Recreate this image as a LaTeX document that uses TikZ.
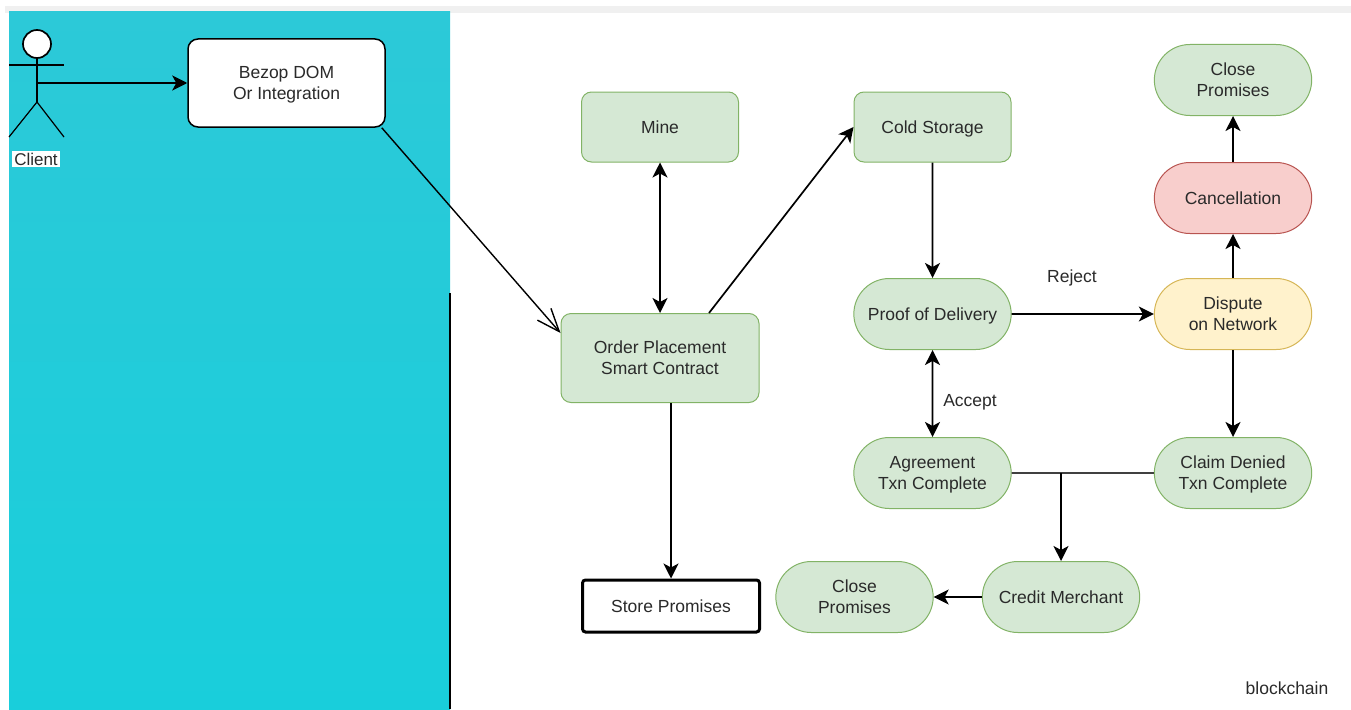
\documentclass[tikz,border=0pt]{standalone}
\usepackage{fontspec}
\setmainfont{Liberation Sans}
\usetikzlibrary{positioning}
\usetikzlibrary{arrows.meta,calc,shapes}
\definecolor{boxgreen}{HTML}{D5E8D4}
\definecolor{linegreen}{HTML}{82B366}
\definecolor{boxred}{HTML}{F8CECC}
\definecolor{linered}{HTML}{B85450}
\definecolor{boxyellow}{HTML}{FFF2CC}
\definecolor{lineyellow}{HTML}{D6B656}
\definecolor{inktext}{HTML}{2A2A2A}
\definecolor{tealtop}{HTML}{2CC9D8}
\definecolor{tealbottom}{HTML}{19CEDB}
\newcommand{\textstrut}{\rule[-4pt]{0pt}{20.6pt}}
\newcommand{\tallstrut}{\rule[-4pt]{0pt}{41.6pt}}
\tikzset{
    flow/.style={>={Stealth[length=15pt,width=15pt,inset=4pt]},x=1pt,y=1pt,
                     line width=1.7pt,font=\fontsize{17.5}{21}\selectfont,text=inktext},
    strutted/.style={execute at begin node=\textstrut,execute at end node=\textstrut},
    twolines/.style={execute at begin node=\tallstrut},
    square/.style={strutted,draw=linegreen,line width=1pt,fill=boxgreen,rounded corners=10pt,align=center,
                     minimum width=157pt,minimum height=70pt},
    pill/.style={strutted,rounded rectangle,draw=linegreen,line width=1pt,fill=boxgreen,align=center,
                     minimum width=164pt,minimum height=71pt},
    openarrow/.style={line width=1.4pt,-{Straight Barb[length=23pt,width=18pt]}},
    }
\begin{document}
\begin{tikzpicture}[flow]
            \useasboundingbox (0,0) rectangle (1351,-709);
            \fill[gray!12] (5,-6) rectangle (1351,-13);
            \shade[top color=tealtop,bottom color=tealbottom] (9,-12) rectangle (450,-709);
            \draw (450,-293) -- (450,-709);

            \node[circle,draw,fill=white,minimum size=28pt,inner sep=0pt] (head) at (37,-44) {};
            \coordinate (hip) at (37,-102);
            \coordinate (waist) at (37,-83);
            \coordinate (armleft) at (9,-65);
            \coordinate (armright) at (64,-65);
            \coordinate (footleft) at (9,-137);
            \coordinate (footright) at (64,-137);
            \draw[line width=1.2pt] (head) -- (hip);
            \draw[line width=1.2pt] (armleft) -- (armright);
            \draw[line width=1.2pt] (footleft) -- (hip) -- (footright);
            \node[fill=white,inner sep=2pt,font=\fontsize{17}{20}\selectfont] (client) at (36,-159) {Client};

            \node[square,twolines,fill=white,draw=black,line width=1.5pt,minimum width=197pt,minimum height=88pt] (bezop) at (286.5,-83) {Bezop DOM\\Or Integration};
            \node[square,twolines,minimum width=198pt,minimum height=89pt] (order) at (660,-358) {Order Placement\\Smart Contract};
            \node[square] (mine) [above of=order, node distance=231pt] {Mine};
            \node[square] (cold) [right of=mine, node distance=272.5pt] {Cold Storage};
            \node[pill] (proof) [below of=cold, node distance=187pt] {Proof of Delivery};
            \node[pill,twolines] (agreement) [below of=proof, node distance=159pt] {Agreement\\Txn Complete};
            \node[pill,twolines,fill=boxyellow,draw=lineyellow] (dispute) [right of=proof, node distance=300.5pt] {Dispute\\on Network};
            \node[pill,fill=boxred,draw=linered] (cancel) [above of=dispute, node distance=116pt] {Cancellation};
            \node[pill,twolines] (closetop) [above of=cancel, node distance=118pt] {Close\\Promises};
            \node[pill,twolines] (claim) [below of=dispute, node distance=159pt] {Claim Denied\\Txn Complete};
            \node[pill] (credit) at (1061,-597) {Credit Merchant};
            \node[pill,twolines] (closeleft) [left of=credit, node distance=206.5pt] {Close\\Promises};
            \node[strutted,draw=black,line width=3pt,rounded corners=3pt,fill=white,minimum width=177pt,minimum height=52pt] (store) at (671,-606) {Store Promises};

            \node (reject) at (1072,-276) {\textstrut Reject};
            \node (accept) at (970,-400) {\textstrut Accept};
            \node (blockchain) at (1287,-688) {blockchain};

            \coordinate (join) at (1061,-473);

            \path[->] (waist) edge (bezop.west);
            \path[openarrow] ([xshift=-4pt]bezop.south east) edge ([yshift=25pt]order.west);
            \path[<->] (order.north) edge (mine.south);
            \path[->] ([xshift=49pt]order.north) edge (cold.west);
            \path[->] ([xshift=11pt]order.south) edge (store.north);
            \path[->] (cold) edge (proof);
            \path[->] (proof) edge (dispute);
            \path[<->] (proof) edge (agreement);
            \path[->] (dispute) edge (cancel);
            \path[->] (cancel) edge (closetop);
            \path[->] (dispute) edge (claim);
            \path[draw,line width=1.6pt,gray!50!black] (agreement) -- (claim);
            \path[->] (join) edge (credit);
            \path[->] (credit) edge (closeleft);
        \end{tikzpicture}
\end{document}
